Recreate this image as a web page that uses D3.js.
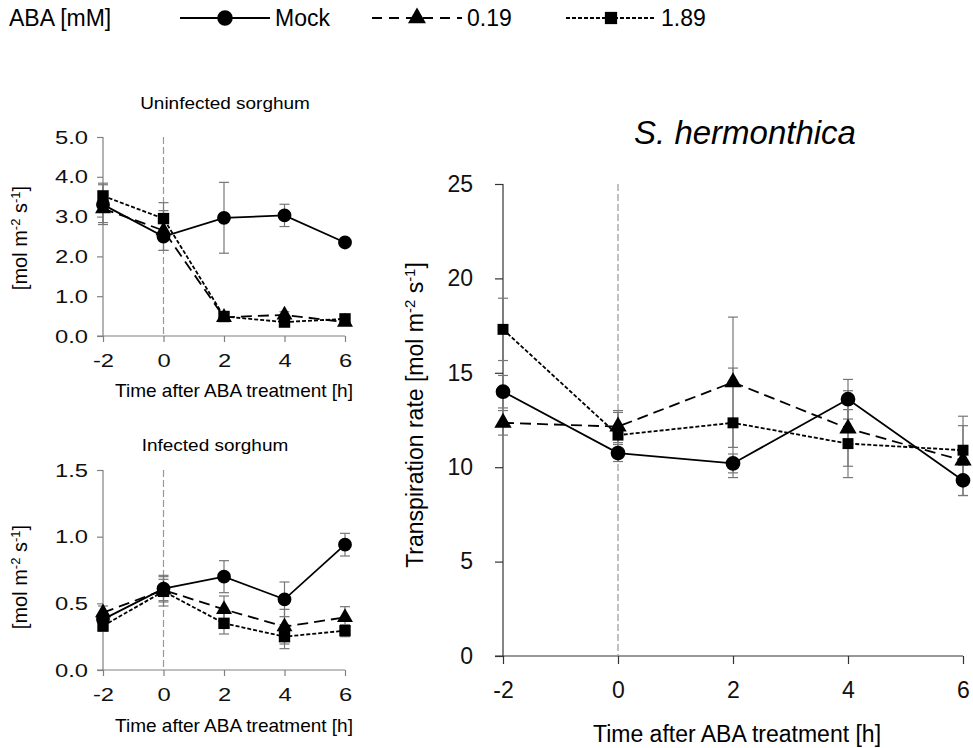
<!DOCTYPE html>
<html><head><meta charset="utf-8">
<script src="https://cdn.jsdelivr.net/npm/d3@7"></script>
<style>body{margin:0;background:#fff}svg{display:block;font-family:"Liberation Sans",Arial,sans-serif}</style>
</head><body>
<svg id="c" width="973" height="748"></svg>
<script>
const times = [-2, 0, 2, 4, 6];
const seriesNames = ["Mock", "0.19", "1.89"];
const legendTitle = "ABA [mM]";
// Uninfected sorghum
const uninfMock = [3.30, 2.50, 2.97, 3.03, 2.35];
const uninfMockErr = [0.50, 0.35, 0.89, 0.28, 0.05];
const uninf019 = [3.20, 2.65, 0.47, 0.53, 0.35];
const uninf019Err = [0.35, 0.50, 0.06, 0.08, 0.05];
const uninf189 = [3.52, 2.95, 0.49, 0.35, 0.43];
const uninf189Err = [0.32, 0.40, 0.05, 0.08, 0.05];
// Infected sorghum
const infMock = [0.38, 0.61, 0.70, 0.53, 0.94];
const infMockErr = [0.05, 0.10, 0.12, 0.13, 0.085];
const inf019 = [0.43, 0.60, 0.455, 0.325, 0.395];
const inf019Err = [0.05, 0.08, 0.10, 0.13, 0.08];
const inf189 = [0.33, 0.59, 0.35, 0.25, 0.295];
const inf189Err = [0.04, 0.11, 0.08, 0.09, 0.045];
// S. hermonthica
const shMock = [14.0, 10.75, 10.2, 13.6, 9.3];
const shMockErr = [0.86, 0.45, 0.5, 1.05, 0.8];
const sh019 = [12.35, 12.15, 14.5, 12.05, 10.35];
const sh019Err = [0.65, 0.85, 3.45, 2.0, 1.85];
const sh189 = [17.3, 11.7, 12.35, 11.25, 10.9];
const sh189Err = [1.65, 1.2, 2.9, 1.8, 1.8];
const uninfTicks = [0, 1, 2, 3, 4, 5];
const infTicks = [0, 0.5, 1.0, 1.5];
const shTicks = [0, 5, 10, 15, 20, 25];

const svg = d3.select("#c");
const styles = [
  {dash: null, shape: d3.symbolCircle},
  {dash: "11,6", shape: d3.symbolTriangle},
  {dash: "4,2", shape: d3.symbolSquare}
];

function panel(o) {
  const g = svg.append("g");
  const x = d3.scaleLinear().domain([-2, 6]).range(o.xr);
  const y = d3.scaleLinear().domain(o.yd).range(o.yr);
  const fmt = o.fmt === "d" ? (d => String(d)) : (d => d.toFixed(1));
  // x axis
  const xa = g.append("g").attr("transform", `translate(0,${o.yr[0]})`)
    .call(d3.axisBottom(x).tickValues(times).tickSize(o.tick).tickPadding(o.pad).tickFormat(d => String(d)));
  xa.select(".domain").attr("d", `M${o.xr[0]-o.tick},0H${o.xr[1]}`);
  // y axis
  const ya = g.append("g").attr("transform", `translate(${o.xr[0]},0)`)
    .call(d3.axisLeft(y).tickValues(o.ticks).tickSize(o.tick).tickPadding(o.ypad).tickFormat(fmt));
  ya.select(".domain").attr("d", `M0,${o.yr[1]}V${o.yr[0]}`);
  g.selectAll(".domain").attr("stroke", o.axisColor).attr("stroke-width", 1.2);
  g.selectAll(".tick line").attr("stroke", o.axisColor).attr("stroke-width", 1.2);
  g.selectAll(".tick text").attr("font-size", o.fs).attr("fill", "#111")
    .attr("font-family", "Liberation Sans, Arial, sans-serif");
  if (o.sx !== 1) {
    xa.selectAll(".tick text").attr("transform", `scale(${o.sx},1)`);
    ya.selectAll(".tick text").attr("x", -(o.tick + o.ypad) / o.sx).attr("transform", `scale(${o.sx},1)`);
  }
  // dashed zero line
  g.append("line").attr("x1", x(0)).attr("x2", x(0)).attr("y1", o.yr[1]).attr("y2", o.yr[0])
    .attr("stroke", "#999").attr("stroke-width", 1.2).attr("stroke-dasharray", "7,3");
  // error bars
  o.data.forEach((s) => {
    s.v.forEach((v, i) => {
      const e = s.e[i], cx = x(times[i]);
      g.append("line").attr("x1", cx).attr("x2", cx).attr("y1", y(v - e)).attr("y2", y(v + e))
        .attr("stroke", "#777").attr("stroke-width", 1.2);
      [v - e, v + e].forEach(t => g.append("line").attr("x1", cx - o.cap).attr("x2", cx + o.cap)
        .attr("y1", y(t)).attr("y2", y(t)).attr("stroke", "#777").attr("stroke-width", 1.2));
    });
  });
  // lines & markers
  const line = d3.line().x((d, i) => x(times[i])).y(d => y(d));
  o.data.forEach((s, si) => {
    g.append("path").attr("d", line(s.v)).attr("fill", "none").attr("stroke", "#000")
      .attr("stroke-width", o.lw).attr("stroke-dasharray", styles[si].dash);
  });
  o.data.forEach((s, si) => {
    const sym = d3.symbol().type(styles[si].shape).size(o.msize[si]);
    s.v.forEach((v, i) => g.append("path").attr("d", sym())
      .attr("transform", `translate(${x(times[i])},${y(v)})`).attr("fill", "#000"));
  });
  // title
  g.append("text").attr("transform", `translate(${o.title.x},${o.title.y}) scale(${o.title.sx || 1},1)`)
    .attr("text-anchor", "middle")
    .attr("font-size", o.title.fs).attr("font-style", o.title.italic ? "italic" : null).text(o.title.t);
  // x title
  g.append("text").attr("x", o.xt.x).attr("y", o.xt.y).attr("text-anchor", "middle")
    .attr("font-size", o.xt.fs).text("Time after ABA treatment [h]");
  // y title
  const yt = g.append("text").attr("transform", `translate(${o.yt.x},${o.yt.y}) rotate(-90)`)
    .attr("text-anchor", "middle").attr("font-size", o.yt.fs);
  yt.append("tspan").text(o.yt.pre + "[mol m");
  yt.append("tspan").attr("baseline-shift", "super").attr("font-size", o.yt.fs * 0.65).text("-2");
  yt.append("tspan").text(" s");
  yt.append("tspan").attr("baseline-shift", "super").attr("font-size", o.yt.fs * 0.65).text("-1");
  yt.append("tspan").text("]");
}

panel({
  xr: [103, 345], yd: [0, 5], yr: [336, 137], ticks: uninfTicks, fmt: ".1f",
  tick: 6, pad: 12, ypad: 9, fs: 19, sx: 1.25, axisColor: "#808080", cap: 5, lw: 1.8, msize: [150, 110, 130],
  data: [{v: uninfMock, e: uninfMockErr}, {v: uninf019, e: uninf019Err}, {v: uninf189, e: uninf189Err}],
  title: {t: "Uninfected sorghum", x: 225, y: 109, fs: 16.5, sx: 1.15},
  xt: {x: 234, y: 397, fs: 19}, yt: {x: 27, y: 238, fs: 20, pre: ""}
});
panel({
  xr: [103, 345], yd: [0, 1.5], yr: [670, 470], ticks: infTicks, fmt: ".1f",
  tick: 6, pad: 12, ypad: 9, fs: 19, sx: 1.25, axisColor: "#808080", cap: 5, lw: 1.8, msize: [150, 110, 130],
  data: [{v: infMock, e: infMockErr}, {v: inf019, e: inf019Err}, {v: inf189, e: inf189Err}],
  title: {t: "Infected sorghum", x: 215, y: 451, fs: 16.5, sx: 1.15},
  xt: {x: 234, y: 732, fs: 19}, yt: {x: 27, y: 577, fs: 20, pre: ""}
});
panel({
  xr: [503, 963], yd: [0, 25], yr: [656, 184], ticks: shTicks, fmt: "d",
  tick: 8, pad: 18, ypad: 22, fs: 23, sx: 1, axisColor: "#333", cap: 5, lw: 1.8, msize: [170, 130, 120],
  data: [{v: shMock, e: shMockErr}, {v: sh019, e: sh019Err}, {v: sh189, e: sh189Err}],
  title: {t: "S. hermonthica", x: 745, y: 144, fs: 33, italic: true},
  xt: {x: 737, y: 742, fs: 23}, yt: {x: 423, y: 415, fs: 23, pre: "Transpiration rate "}
});

// legend
const lg = svg.append("g");
lg.append("text").attr("x", 9).attr("y", 26).attr("font-size", 23).text(legendTitle);
const legX = [180, 372, 566];
seriesNames.forEach((n, i) => {
  const x0 = legX[i];
  lg.append("line").attr("x1", x0).attr("x2", x0 + 90).attr("y1", 18).attr("y2", 18)
    .attr("stroke", "#000").attr("stroke-width", 2).attr("stroke-dasharray", i === 1 ? "10,7" : (i === 2 ? "4,2" : null));
  lg.append("path").attr("d", d3.symbol().type(styles[i].shape).size([190, 140, 150][i])())
    .attr("transform", `translate(${x0 + 45},18)`).attr("fill", "#000");
  lg.append("text").attr("x", x0 + 95).attr("y", 26).attr("font-size", 23).text(n);
});
</script>
</body></html>
